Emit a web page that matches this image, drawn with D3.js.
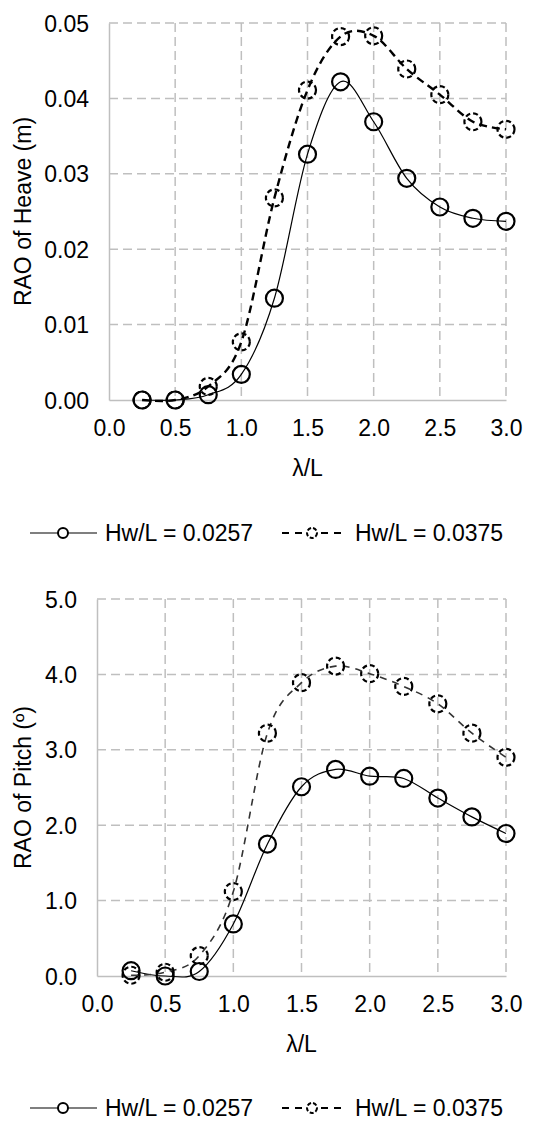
<!DOCTYPE html>
<html>
<head>
<meta charset="utf-8">
<script src="https://cdn.jsdelivr.net/npm/d3@7"></script>
<style>
  body { margin: 0; background: #fff; }
  svg { display: block; font-family: "Liberation Sans", Arial, sans-serif; }
</style>
</head>
<body>
<svg id="chart" width="536" height="1121"></svg>
<script>
const lambdaL = [0.25, 0.5, 0.75, 1.0, 1.25, 1.5, 1.75, 2.0, 2.25, 2.5, 2.75, 3.0];
const seriesNames = ["Hw/L = 0.0257", "Hw/L = 0.0375"];
const heaveLow  = [0.0000, 0.0000, 0.0007, 0.0034, 0.0135, 0.0326, 0.0422, 0.0369, 0.0294, 0.0256, 0.0241, 0.0237];
const heaveHigh = [0.0000, 0.0000, 0.0018, 0.0077, 0.0268, 0.0411, 0.0482, 0.0483, 0.0439, 0.0405, 0.0369, 0.0359];
const pitchLow  = [0.07, 0.00, 0.06, 0.69, 1.75, 2.51, 2.74, 2.65, 2.62, 2.36, 2.11, 1.89];
const pitchHigh = [0.01, 0.05, 0.27, 1.12, 3.22, 3.89, 4.11, 4.01, 3.84, 3.61, 3.22, 2.90];
const xTicks = [0, 0.5, 1.0, 1.5, 2.0, 2.5, 3.0];
const heaveTicks = [0, 0.01, 0.02, 0.03, 0.04, 0.05];
const pitchTicks = [0, 1, 2, 3, 4, 5];

const svg = d3.select("#chart");
const grid = "#bfbfbf";
const fs = 23;

function drawChart(o) {
  const x = d3.scaleLinear().domain([0, 3]).range([o.left, o.right]);
  const y = d3.scaleLinear().domain([0, o.yMax]).range([o.bottom, o.top]);
  const g = svg.append("g");

  // gridlines
  g.selectAll(".hg").data(o.yTicks.slice(1)).enter().append("line")
    .attr("x1", o.left).attr("x2", o.right)
    .attr("y1", d => y(d)).attr("y2", d => y(d))
    .attr("stroke", grid).attr("stroke-width", 1.5).attr("stroke-dasharray", "9,5");
  g.selectAll(".vg").data(xTicks.slice(1)).enter().append("line")
    .attr("y1", o.top).attr("y2", o.bottom)
    .attr("x1", d => x(d)).attr("x2", d => x(d))
    .attr("stroke", grid).attr("stroke-width", 1.5).attr("stroke-dasharray", "9,5");

  // axes
  const xAxis = g.append("g").attr("transform", `translate(0,${o.bottom})`)
    .call(d3.axisBottom(x).tickValues(xTicks).tickFormat(d3.format(".1f")).tickSize(0).tickPadding(20));
  const yAxis = g.append("g").attr("transform", `translate(${o.left},0)`)
    .call(d3.axisLeft(y).tickValues(o.yTicks).tickFormat(d3.format(o.yFmt)).tickSize(0).tickPadding(20));
  [xAxis, yAxis].forEach(a => {
    a.select(".domain").attr("stroke", grid).attr("stroke-width", 1.5);
    a.selectAll("text").attr("font-size", fs).attr("fill", "#000").attr("font-family", "Liberation Sans, Arial, sans-serif");
  });
  yAxis.selectAll("text").attr("dy", "0.35em");

  g.append("text").attr("x", (o.left + o.right) / 2).attr("y", o.bottom + 76)
    .attr("text-anchor", "middle").attr("font-size", fs).text("λ/L");
  g.append("text").attr("transform", `translate(31,${(o.top + o.bottom) / 2}) rotate(-90)`)
    .attr("text-anchor", "middle").attr("font-size", fs).text(o.yLabel);

  const line = d3.line().x(d => x(d[0])).y(d => y(d[1])).curve(d3.curveCatmullRom.alpha(0));

  o.series.forEach((s, i) => {
    const pts = lambdaL.map((l, k) => [l, s.values[k]]);
    g.append("path").datum(pts).attr("d", line).attr("fill", "none")
      .attr("stroke", s.color).attr("stroke-width", s.width).attr("stroke-dasharray", s.dash);
    g.selectAll(".m" + i).data(pts).enter().append("circle")
      .attr("cx", d => x(d[0])).attr("cy", d => y(d[1])).attr("r", 8.5)
      .attr("fill", "none").attr("stroke", "#000").attr("stroke-width", 2.2)
      .attr("stroke-dasharray", i === 1 ? "5,3" : null);
  });

  // legend
  const ly = o.legendY;
  const leg = [{x1: 30, x2: 97, mx: 63, tx: 105}, {x1: 282, x2: 343, mx: 312, tx: 355}];
  leg.forEach((l, i) => {
    g.append("line").attr("x1", l.x1).attr("x2", l.x2).attr("y1", ly).attr("y2", ly)
      .attr("stroke", "#000").attr("stroke-width", i === 1 ? 2 : 1.2)
      .attr("stroke-dasharray", i === 1 ? "7,6" : null);
    g.append("circle").attr("cx", l.mx).attr("cy", ly).attr("r", 5).attr("fill", "#fff")
      .attr("stroke", "#000").attr("stroke-width", 2).attr("stroke-dasharray", i === 1 ? "4,2" : null);
    g.append("text").attr("x", l.tx).attr("y", ly).attr("dy", "0.35em")
      .attr("font-size", fs).text(seriesNames[i]);
  });
}

drawChart({
  left: 109, right: 506, top: 23, bottom: 400, yMax: 0.05,
  yTicks: heaveTicks, yFmt: ".2f", yLabel: "RAO of Heave (m)", legendY: 533,
  series: [
    {values: heaveLow, color: "#000", width: 1.2, dash: null},
    {values: heaveHigh, color: "#000", width: 2.4, dash: "8,5"}
  ]
});
drawChart({
  left: 97, right: 506, top: 599, bottom: 976, yMax: 5,
  yTicks: pitchTicks, yFmt: ".1f", yLabel: "RAO of Pitch (º)", legendY: 1108,
  series: [
    {values: pitchLow, color: "#000", width: 1.2, dash: null},
    {values: pitchHigh, color: "#333", width: 1.6, dash: "7,6"}
  ]
});
</script>
</body>
</html>
